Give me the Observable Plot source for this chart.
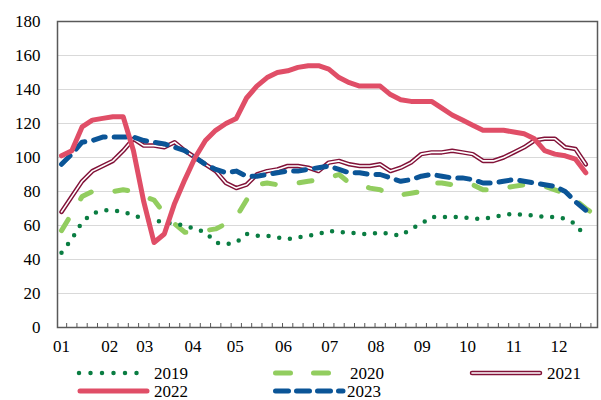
<!DOCTYPE html>
<html><head><meta charset="utf-8">
<script src="https://cdn.jsdelivr.net/npm/d3@7"></script>
<script src="https://cdn.jsdelivr.net/npm/@observablehq/plot@0.6"></script>
<style>
body{margin:0;background:#fff;}
#wrap{position:relative;width:601px;height:400px;font-family:'Liberation Serif';}
#legend{position:absolute;left:0;top:358px;}
svg text{font-family:'Liberation Serif' !important;}
</style></head><body><div id="wrap"><div id="chart"></div><svg id="legend" width="601" height="42"></svg></div>
<script>
// ---- data (weekly index, 0-based) ----
const monthLabels = ["01","02","03","04","05","06","07","08","09","10","11","12"];
const monthPos = [0, 4.7, 8.1, 12.8, 16.9, 21.6, 26.1, 30.6, 35.1, 39.5, 44.0, 48.4];
const yTicks = [0,20,40,60,80,100,120,140,160,180];

const v2019 = [44,52,62,67,69,69,68,66,64,63, 62,61,60,58,56,50,49,50,55,54, 54,53,52,53,
  54,55,57,56,56,55,55,56,55,54, 58,61,65,65,65,65,64,64,65,66, 67,66,66,65,65,64,61,53];
const v2020 = [57,67,77,80,81,80,81,80,77,75, 67,61,56,56,57,58,61,65,75,84, 85,84,85,85,
  86,87,88,90,85,84,82,81,78,78, 79,80,85,85,84,85,84,81,81,82, 83,84,84,83,81,79,75,70,66];
const v2021 = [68,77,86,92,95,98,104,111,107,107, 106,109,104,100,96,92,85,82,84,90, 92,93,95,95,
  94,92,97,98,96,95,95,96,92,94, 97,102,103,103,104,103,102,98,98,100, 103,106,110,111,111,106,105,96];
const v2022 = [101,104,118,122,123,124,124,104,74,50, 55,73,87,100,110,116,120,123,135,142, 147,150,151,153,
  154,154,152,147,144,142,142,142,137,134, 133,133,133,129,125,122,119,116,116,116, 115,114,111,104,102,101,99,91];
const v2023 = [96,102,109,110,112,112,112,112,110,109, 108,106,104,100,96,93,91,92,89,89, 90,91,92,92,
  93,94,95,93,91,91,90,90,88,86, 87,89,90,89,88,88,87,85,85,86, 87,86,85,84,83,80,74,69];

const seriesNames = ["2019","2020","2021","2022","2023"];

const FONT = "Liberation Serif";
const rows = vals => vals.map((v, i) => ({i, v}));
const weekBounds = d3.range(0.5, 52, 1);
const labelByPos = new Map(monthPos.map((p, k) => [p, monthLabels[k]]));

const C19 = "#0A7D42", C20 = "#92CD5F", C21 = "#821238", C22 = "#E04E67", C23 = "#0B5597";

const chart = Plot.plot({
  width: 601, height: 358,
  marginLeft: 57, marginRight: 4, marginTop: 21, marginBottom: 31,
  style: {fontFamily: FONT, fontSize: "17px", color: "#000", background: "#fff", overflow: "visible"},
  x: {domain: [-0.39, 52.14]},
  y: {domain: [0, 180]},
  marks: [
    Plot.gridY(yTicks.filter(d => d > 0 && d < 180), {stroke: "#d9d9d9", strokeOpacity: 1, strokeWidth: 1}),
    Plot.ruleX(weekBounds, {x: d => d, stroke: "#595959", strokeWidth: 1, insetTop: 302}),
    Plot.axisY(yTicks, {tickSize: 0, tickPadding: 17, fontSize: 17, fontFamily: FONT, label: null, fill: "#000"}),
    Plot.axisX(monthPos, {tickSize: 0, tickPadding: 12, fontSize: 17, fontFamily: FONT, label: null, fill: "#000", tickFormat: d => labelByPos.get(d)}),
    Plot.line(rows(v2020), {x: "i", y: "v", stroke: C20, strokeWidth: 5, strokeDasharray: "13 24", strokeLinecap: "round", strokeLinejoin: "round"}),
    Plot.line(rows(v2019), {x: "i", y: "v", stroke: C19, strokeWidth: 4.5, strokeDasharray: "0 10.8", strokeLinecap: "round", strokeLinejoin: "round"}),
    Plot.line(rows(v2021), {x: "i", y: "v", stroke: C21, strokeWidth: 4.5, strokeLinecap: "round", strokeLinejoin: "round"}),
    Plot.line(rows(v2021), {x: "i", y: "v", stroke: "#fff", strokeWidth: 1.6, strokeLinecap: "round", strokeLinejoin: "round"}),
    Plot.line(rows(v2023), {x: "i", y: "v", stroke: C23, strokeWidth: 5, strokeDasharray: "12 9", strokeLinecap: "round", strokeLinejoin: "round"}),
    Plot.line(rows(v2022), {x: "i", y: "v", stroke: C22, strokeWidth: 5, strokeLinecap: "round", strokeLinejoin: "round"}),
    Plot.frame({stroke: "#595959", strokeWidth: 1.5})
  ]
});
document.getElementById("chart").appendChild(chart);

// ---- legend ----
const legendItems = [
  {name: seriesNames[0], row: 0, x1: 79, x2: 148, tx: 154, stroke: C19, w: 4.5, dash: "0 11.5"},
  {name: seriesNames[1], row: 0, x1: 275.5, x2: 330, tx: 350, stroke: C20, w: 5, dash: "15 23"},
  {name: seriesNames[2], row: 0, x1: 472, x2: 540, tx: 547, stroke: C21, w: 4.5, dash: null, dbl: true},
  {name: seriesNames[3], row: 1, x1: 80, x2: 147, tx: 154, stroke: C22, w: 5, dash: null},
  {name: seriesNames[4], row: 1, x1: 275.5, x2: 343, tx: 347, stroke: C23, w: 5, dash: "13 8"}
];
const rowY = [15, 33];
const lg = d3.select("#legend");
for (const it of legendItems) {
  const y = rowY[it.row];
  lg.append("line").attr("x1", it.x1).attr("x2", it.x2).attr("y1", y).attr("y2", y)
    .attr("stroke", it.stroke).attr("stroke-width", it.w).attr("stroke-linecap", "round")
    .attr("stroke-dasharray", it.dash);
  if (it.dbl) {
    lg.append("line").attr("x1", it.x1).attr("x2", it.x2).attr("y1", y).attr("y2", y)
      .attr("stroke", "#fff").attr("stroke-width", 1.6).attr("stroke-linecap", "round");
  }
  lg.append("text").attr("x", it.tx).attr("y", y).attr("dy", "0.35em")
    .attr("font-size", 17).attr("font-family", FONT)
    .attr("fill", "#000").text(it.name);
}
</script></body></html>
